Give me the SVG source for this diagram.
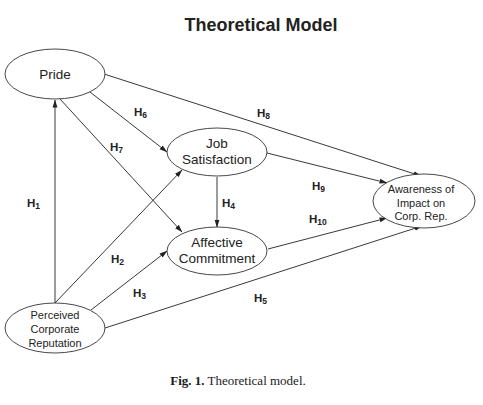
<svg xmlns="http://www.w3.org/2000/svg" width="483" height="405" viewBox="0 0 483 405">
<style>
.node ellipse{fill:#fff;stroke:#333;stroke-width:0.9}
.t{font-family:"Liberation Sans",Arial,sans-serif;fill:#222;text-anchor:middle}
.big{font-size:13.5px}
.small{font-size:11px}
.lab{font-family:"Liberation Sans",Arial,sans-serif;font-weight:bold;font-size:11.5px;fill:#222}
.lab tspan{font-size:8.5px}
#connectors line{stroke:#222;stroke-width:0.9;fill:none}
#connectors line.a{marker-end:url(#arr)}
</style>
<defs>
<marker id="arr" markerUnits="userSpaceOnUse" markerWidth="8" markerHeight="6" refX="7.5" refY="3" orient="auto">
<path d="M0,0.5 L8,3 L0,5.5 z" fill="#222"/>
</marker>
</defs>
<rect width="483" height="405" fill="#fff"/>
<text x="261" y="31" font-family="Liberation Sans,Arial,sans-serif" font-weight="bold" font-size="18" text-anchor="middle" fill="#222">Theoretical Model</text>
<g id="connectors">
<line class="a" x1="55" y1="303" x2="55" y2="100"/>
<line class="a" x1="60" y1="99" x2="182" y2="232"/>
<line class="a" x1="90" y1="92" x2="167" y2="152"/>
<line class="a" x1="104" y1="74" x2="421" y2="176"/>
<line class="a" x1="267" y1="153" x2="387" y2="183"/>
<line class="a" x1="217" y1="177" x2="217" y2="227"/>
<line class="a" x1="268" y1="249" x2="387" y2="218"/>
<line class="a" x1="105" y1="328" x2="422" y2="226"/>
<line class="a" x1="55" y1="303" x2="182" y2="170"/>
<line class="a" x1="91" y1="310" x2="167" y2="251"/>
</g>
<g id="pride" class="node">
<ellipse cx="55" cy="74" rx="50" ry="25"/>
<text class="t big" x="55" y="79">Pride</text>
</g>
<g id="job" class="node">
<ellipse cx="217" cy="152" rx="50" ry="24"/>
<text class="t big" x="217" y="148">Job</text>
<text class="t big" x="217" y="164">Satisfaction</text>
</g>
<g id="affective" class="node">
<ellipse cx="217" cy="251" rx="50" ry="24"/>
<text class="t big" x="217" y="247">Affective</text>
<text class="t big" x="217" y="263">Commitment</text>
</g>
<g id="awareness" class="node">
<ellipse cx="424" cy="201" rx="51" ry="27"/>
<text class="t small" x="421" y="193">Awareness of</text>
<text class="t small" x="421" y="207">Impact on</text>
<text class="t small" x="421" y="220">Corp. Rep.</text>
</g>
<g id="reputation" class="node">
<ellipse cx="55" cy="328" rx="50" ry="25"/>
<text class="t small" x="55" y="319">Perceived</text>
<text class="t small" x="55" y="333">Corporate</text>
<text class="t small" x="55" y="347">Reputation</text>
</g>
<g id="labels">
<text class="lab" x="134" y="116">H<tspan dy="2">6</tspan></text>
<text class="lab" x="257" y="117">H<tspan dy="2">8</tspan></text>
<text class="lab" x="110" y="151">H<tspan dy="2">7</tspan></text>
<text class="lab" x="27" y="207">H<tspan dy="2">1</tspan></text>
<text class="lab" x="312" y="190">H<tspan dy="2">9</tspan></text>
<text class="lab" x="222" y="207">H<tspan dy="2">4</tspan></text>
<text class="lab" x="309" y="223">H<tspan dy="2">10</tspan></text>
<text class="lab" x="111" y="263">H<tspan dy="2">2</tspan></text>
<text class="lab" x="133" y="297">H<tspan dy="2">3</tspan></text>
<text class="lab" x="254" y="302">H<tspan dy="2">5</tspan></text>
</g>
<text x="238" y="385" font-family="Liberation Serif,Times New Roman,serif" font-size="13" text-anchor="middle" fill="#1a1a1a"><tspan font-weight="bold">Fig. 1.</tspan> Theoretical model.</text>
</svg>
